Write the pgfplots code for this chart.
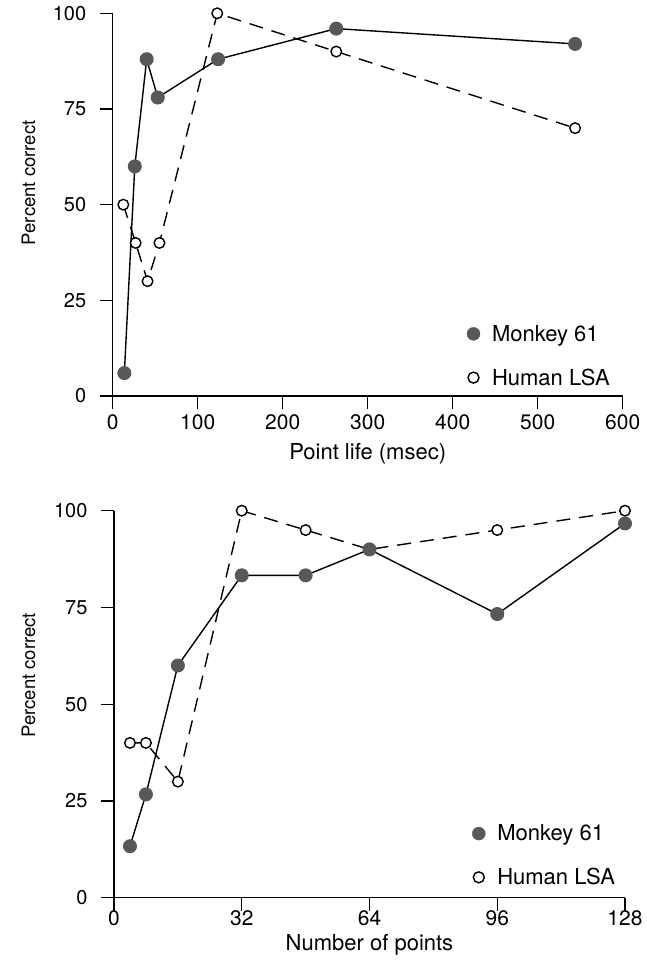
\documentclass[border=0pt]{standalone}
\usepackage{pgfplots}
\pgfplotsset{compat=1.18}
\usepackage{fontspec}
\setmainfont{TeX Gyre Heros}
\setsansfont{TeX Gyre Heros}

\definecolor{dotgray}{RGB}{88,88,88}

\pgfplotsset{
  panel/.style={
    scale only axis,
    axis lines=left,
    axis line style={-, line width=1.3pt},
    every tick/.style={black, line width=1.3pt},
    tick align=outside,
    major tick length=13pt,
    ymin=0, ymax=100,
    ytick={0,25,50,75,100},
    clip=false,
    /pgf/number format/assume math mode=true,
    /pgf/number format/1000 sep={},
    yticklabel style={font=\fontsize{20}{20}\selectfont, xshift=-10pt},
    xticklabel style={font=\fontsize{21}{21}\selectfont},
    xlabel style={font=\fontsize{22}{22}\selectfont},
    ylabel style={font=\fontsize{18.5}{18.5}\selectfont},
    legend style={draw=none, fill=none, font=\fontsize{22}{22}\selectfont,
      row sep=22pt, inner sep=0pt, cells={anchor=west},
      /tikz/every odd column/.style={column sep=10pt}},
  },
  monkey/.style={black, line width=1.4pt, mark=*, mark size=6.3pt,
    mark options={solid, fill=dotgray, draw=dotgray}},
  human/.style={black, line width=1.4pt, dash pattern=on 14pt off 9pt,
    mark=*, mark size=5.3pt, mark options={solid, fill=white, draw=black, line width=1.4pt}},
}

\begin{document}
\begin{tikzpicture}
\useasboundingbox (0,0) rectangle (647pt,-972pt);

% top: point life
\begin{axis}[panel,
    at={(112.7pt,-396pt)}, anchor=south west,
    width=510pt, height=382.7pt,
    xmin=0, xmax=600, xtick={0,100,...,600},
    xticklabel style={yshift=-2pt},
    xlabel={Point life (msec)}, ylabel={Percent correct},
    xlabel style={at={(axis description cs:0.5,0)}, anchor=base, yshift=-63pt},
    ylabel style={at={(axis description cs:-0.1445,0.557)}, anchor=south},
    legend style={at={(axis cs:416.6,19.1)}, anchor=north west}]
  \addlegendimage{only marks, mark=*, mark size=6.5pt, mark options={fill=dotgray, draw=dotgray}}
  \addlegendentry{Monkey 61}
  \addlegendimage{only marks, mark=*, mark size=5.5pt, mark options={fill=white, draw=black, line width=1.4pt}}
  \addlegendentry{Human LSA}
  \addplot[human, forget plot] coordinates {
    (12.5,50) (27,40) (41,30) (55,40) (123,100) (263,90) (544,70)};
  \addplot[monkey, forget plot] coordinates {
    (13.7,6) (26,60) (40,88) (53,78) (124,88) (263,96) (544,92)};
\end{axis}

% bottom: number of points
\begin{axis}[panel,
    at={(114pt,-897.7pt)}, anchor=south west,
    width=511pt, height=387pt,
    xmin=0, xmax=128, xtick={0,32,64,96,128},
    xticklabel style={yshift=4pt},
    xlabel={Number of points}, ylabel={Percent correct},
    xlabel style={at={(axis description cs:0.5,0)}, anchor=base, yshift=-53pt},
    ylabel style={at={(axis description cs:-0.1468,0.575)}, anchor=south},
    legend style={at={(axis cs:89.7,19.4)}, anchor=north west}]
  \addlegendimage{only marks, mark=*, mark size=6.5pt, mark options={fill=dotgray, draw=dotgray}}
  \addlegendentry{Monkey 61}
  \addlegendimage{only marks, mark=*, mark size=5.5pt, mark options={fill=white, draw=black, line width=1.4pt}}
  \addlegendentry{Human LSA}
  \addplot[human, forget plot] coordinates {
    (4,40) (8,40) (16,30) (32,100) (48,95) (64,90) (96,95) (128,100)};
  \addplot[monkey, forget plot] coordinates {
    (4,13.3) (8,26.7) (16,60) (32,83.3) (48,83.3) (64,90) (96,73.3) (128,96.7)};
\end{axis}
\end{tikzpicture}
\end{document}
